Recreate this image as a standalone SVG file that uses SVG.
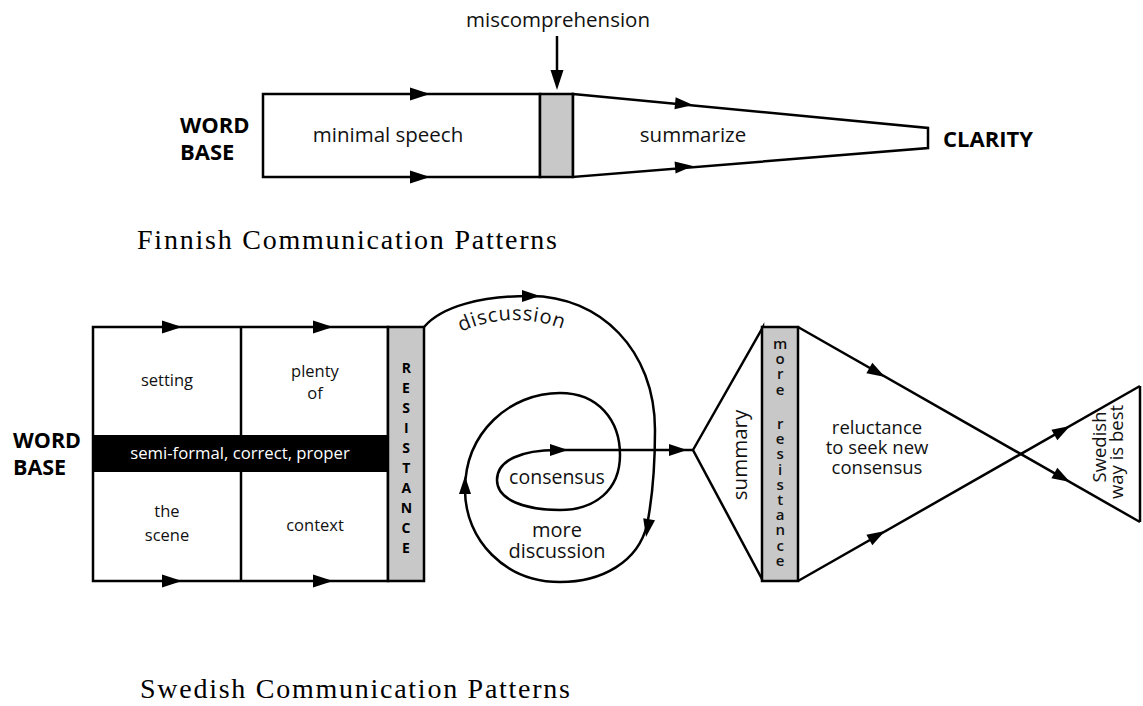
<svg xmlns="http://www.w3.org/2000/svg" width="1143" height="706" viewBox="0 0 1143 706">
  <defs>
    <style>
      .ln { fill: none; stroke: #000; stroke-width: 2.5; stroke-linejoin: miter; }
      .box { fill: #fff; stroke: #000; stroke-width: 2.5; }
      .gray { fill: #c8c8c8; stroke: #000; stroke-width: 2.5; }
      .sans { font-family: "Open Sans", "Noto Sans", "DejaVu Sans", sans-serif; fill: #111; }
      .bold { font-family: "Open Sans", "Noto Sans", "DejaVu Sans", sans-serif; font-weight: bold; fill: #000; }
      .cap { font-family: "Liberation Serif", "DejaVu Serif", serif; font-size: 28px; fill: #000; }
      .mid { text-anchor: middle; }
      .vert { writing-mode: vertical-rl; text-orientation: upright; }
    </style>
    <path id="ah" d="M-20,-6.5 L0,0 L-20,6.5 Z" fill="#000"/>
    <path id="ahs" d="M-18,-6 L0,0 L-18,6 Z" fill="#000"/>
  </defs>

  <!-- ===== Finnish pattern ===== -->
  <g id="finnish-wordbase">
    <text class="bold" font-size="22"><tspan x="180" y="133">WORD</tspan><tspan x="180" y="160">BASE</tspan></text>
  </g>

  <g id="minimal-speech">
    <rect class="box" x="263" y="94" width="277" height="83"/>
    <text class="sans mid" x="388" y="142" font-size="20.5">minimal speech</text>
  </g>

  <g id="miscomprehension">
    <rect class="gray" x="540" y="94" width="33" height="83"/>
    <text class="sans mid" x="558" y="27" font-size="20.5">miscomprehension</text>
  </g>

  <g id="summarize">
    <path class="box" d="M573,94 L928,128 L928,148 L573,177 Z"/>
    <text class="sans mid" x="693" y="142" font-size="20.5">summarize</text>
  </g>

  <g id="clarity">
    <text class="bold" x="943" y="147" font-size="22">CLARITY</text>
  </g>

  <g id="finnish-connectors">
    <line class="ln" x1="557" y1="36" x2="557" y2="80"/>
    <use href="#ah" transform="translate(557,90) rotate(90)"/>
    <use href="#ah" transform="translate(430,94)"/>
    <use href="#ah" transform="translate(430,177)"/>
    <use href="#ahs" transform="translate(693,105) rotate(5.5)"/>
    <use href="#ahs" transform="translate(693,166) rotate(-4.7)"/>
  </g>

  <text class="cap" x="137" y="249" textLength="420" lengthAdjust="spacing">Finnish Communication Patterns</text>

  <!-- ===== Swedish pattern ===== -->
  <g id="swedish-wordbase">
    <text class="bold" font-size="21.5"><tspan x="13" y="448">WORD</tspan><tspan x="13" y="475">BASE</tspan></text>
  </g>

  <g id="setting-grid">
    <rect class="box" x="93" y="327" width="295" height="254"/>
    <line class="ln" x1="241" y1="327" x2="241" y2="581"/>
    <text class="sans mid" x="167" y="386" font-size="16.5">setting</text>
    <text class="sans mid" font-size="16.5"><tspan x="315" y="377">plenty</tspan><tspan x="315" y="399">of</tspan></text>
    <text class="sans mid" font-size="16.5"><tspan x="167" y="517">the</tspan><tspan x="167" y="541">scene</tspan></text>
    <text class="sans mid" x="315" y="531" font-size="16.5">context</text>
  </g>

  <g id="formal-band">
    <rect x="93" y="435" width="295" height="37" fill="#000"/>
    <text class="sans mid" x="240" y="459" font-size="16.7" style="fill:#fff">semi-formal, correct, proper</text>
  </g>

  <g id="resistance">
    <rect class="gray" x="388" y="327" width="36" height="254"/>
    <text class="bold vert" x="406" y="357.5" font-size="14" letter-spacing="1">RESISTANCE</text>
  </g>

  <g id="discussion-loop">
    <path id="discArc" d="M461,332 Q525,303 594,344" fill="none" stroke="none"/>
    <text class="sans" font-size="20" letter-spacing="0.8"><textPath href="#discArc">discussion</textPath></text>
    <text class="sans mid" x="557" y="484" font-size="19.5">consensus</text>
    <text class="sans mid" font-size="20"><tspan x="557" y="537">more</tspan><tspan x="557" y="558">discussion</tspan></text>
  </g>

  <g id="summary">
    <path class="box" d="M693,450 L763,327 L763,581 Z"/>
    <text class="sans mid" font-size="20.5" transform="translate(747,455) rotate(-90)">summary</text>
  </g>

  <g id="more-resistance">
    <rect class="gray" x="762" y="327" width="36" height="254"/>
    <text class="sans vert" x="780" y="333" font-size="15" letter-spacing="-4.8" style="font-weight:600">more</text>
    <text class="sans vert" x="780" y="413" font-size="15" letter-spacing="-4.8" style="font-weight:600">resistance</text>
  </g>

  <g id="reluctance">
    <text class="sans mid" font-size="18.5"><tspan x="877" y="434">reluctance</tspan><tspan x="877" y="454">to seek new</tspan><tspan x="877" y="474">consensus</tspan></text>
  </g>

  <g id="swedish-way">
    <line class="ln" x1="1140" y1="386" x2="1140" y2="522"/>
    <text class="sans mid" font-size="18.5" transform="rotate(-90)"><tspan x="-447" y="1106">Swedish</tspan><tspan x="-452" y="1123">way is best</tspan></text>
  </g>

  <g id="connectors">
    <!-- grid flow arrows -->
    <use href="#ah" transform="translate(182,327)"/>
    <use href="#ah" transform="translate(333,327)"/>
    <use href="#ah" transform="translate(182,581)"/>
    <use href="#ah" transform="translate(333,581)"/>
    <!-- spiral from resistance to the summary vertex -->
    <path class="ln" d="M424,327 C442,306 482,296 530,296 C600,296 655,350 655,430 C655,470 652,500 647,525 C638,562 602,582 560,582 C505,582 465,540 465,490 C465,432 510,393 560,393 C598,393 620,420 620,455 C620,490 595,510 560,510 C525,510 497,500 497,480 C497,460 522,450 557,450 L693,450"/>
    <use href="#ahs" transform="translate(540,296)"/>
    <use href="#ahs" transform="translate(646,537) rotate(100)"/>
    <use href="#ahs" transform="translate(465,476) rotate(-90)"/>
    <use href="#ahs" transform="translate(568,450)"/>
    <use href="#ahs" transform="translate(687,450)"/>
    <!-- crossing lines to the end triangle -->
    <line class="ln" x1="798" y1="327" x2="1140" y2="522"/>
    <line class="ln" x1="798" y1="581" x2="1140" y2="386"/>
    <use href="#ahs" transform="translate(885,377) rotate(29.7)"/>
    <use href="#ahs" transform="translate(1070,482) rotate(29.7)"/>
    <use href="#ahs" transform="translate(885,531) rotate(-29.7)"/>
    <use href="#ahs" transform="translate(1070,426) rotate(-29.7)"/>
  </g>

  <text class="cap" x="140" y="698" textLength="430" lengthAdjust="spacing">Swedish Communication Patterns</text>
</svg>
